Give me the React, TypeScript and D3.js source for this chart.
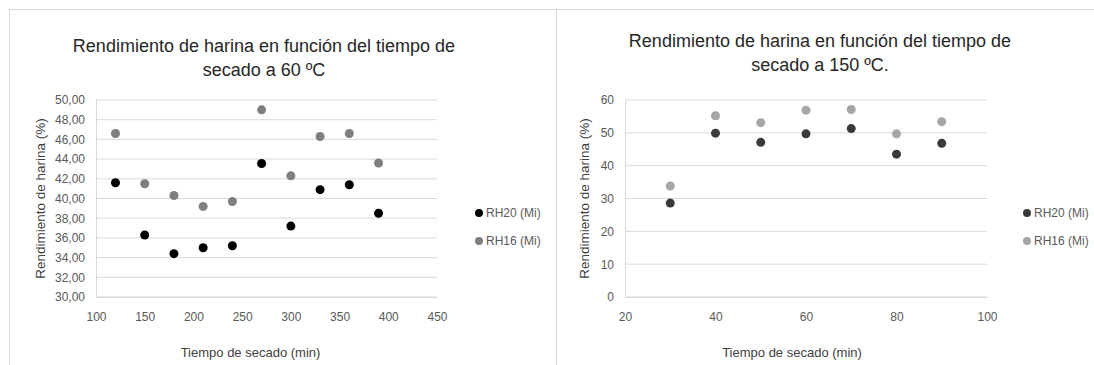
import React, { useEffect, useRef } from 'react';
import * as d3 from 'd3';

// chart 1: secado a 60 ºC
const tiempo60 = [120, 150, 180, 210, 240, 270, 300, 330, 360, 390];
const rh20_60 = [41.6, 36.3, 34.4, 35.0, 35.2, 43.55, 37.2, 40.9, 41.4, 38.5];
const rh16_60 = [46.6, 41.5, 40.3, 39.2, 39.7, 49.0, 42.3, 46.3, 46.6, 43.6];
const xTicks60 = [100, 150, 200, 250, 300, 350, 400, 450];
const yTicks60 = [30, 32, 34, 36, 38, 40, 42, 44, 46, 48, 50];

// chart 2: secado a 150 ºC
const tiempo150 = [30, 40, 50, 60, 70, 80, 90];
const rh20_150 = [28.6, 49.9, 47.1, 49.7, 51.3, 43.5, 46.8];
const rh16_150 = [33.8, 55.2, 53.1, 56.9, 57.1, 49.7, 53.4];
const xTicks150 = [20, 40, 60, 80, 100];
const yTicks150 = [0, 10, 20, 30, 40, 50, 60];

const seriesNames = ['RH20 (Mi)', 'RH16 (Mi)'];

const FONT = 'Liberation Sans, Arial, sans-serif';

function drawChart(svg, opts) {
    const g = svg.append('g');

    let xScale = d3.scaleLinear().domain(opts.xDomain).range(opts.xRange);
    let yScale = d3.scaleLinear().domain(opts.yDomain).range(opts.yRange);

    // grid lines
    g.append('g')
        .selectAll('line')
        .data(opts.yTicks)
        .join('line')
        .attr('x1', opts.xRange[0])
        .attr('x2', opts.xRange[1])
        .attr('y1', d => yScale(d))
        .attr('y2', d => yScale(d))
        .attr('stroke', '#d9d9d9')
        .attr('stroke-width', 1);

    // axes
    let yAxis = d3.axisLeft(yScale).tickValues(opts.yTicks).tickFormat(opts.yFormat).tickSize(0).tickPadding(11);
    let xAxis = d3.axisBottom(xScale).tickValues(opts.xTicks).tickFormat(d3.format('d')).tickSize(0).tickPadding(15);

    let ya = g.append('g').attr('transform', 'translate(' + opts.xRange[0] + ',0)').call(yAxis);
    ya.select('.domain').attr('stroke', '#d9d9d9');
    let xa = g.append('g').attr('transform', 'translate(0,' + opts.yRange[0] + ')').call(xAxis);
    xa.select('.domain').attr('stroke', '#d9d9d9');
    g.selectAll('.tick text')
        .attr('font-family', FONT)
        .attr('font-size', 12)
        .attr('fill', '#595959');

    // points
    const series = [
        { name: seriesNames[0], values: opts.s1, color: opts.colors[0] },
        { name: seriesNames[1], values: opts.s2, color: opts.colors[1] },
    ];
    series.forEach(s => {
        g.append('g')
            .selectAll('circle')
            .data(s.values)
            .join('circle')
            .attr('cx', (d, i) => xScale(opts.x[i]))
            .attr('cy', d => yScale(d))
            .attr('r', 4.5)
            .attr('fill', s.color);
    });

    // titles
    let title = g.append('text')
        .attr('text-anchor', 'middle')
        .attr('font-family', FONT)
        .attr('font-size', 18)
        .attr('fill', '#262626');
    opts.title.forEach((t, i) => {
        title.append('tspan')
            .attr('x', opts.titleX)
            .attr('y', opts.titleY + i * 24)
            .text(t);
    });

    g.append('text')
        .attr('text-anchor', 'middle')
        .attr('font-family', FONT)
        .attr('font-size', 13.5)
        .attr('fill', '#404040')
        .attr('transform', 'translate(' + opts.yTitleX + ',' + (opts.yRange[0] + opts.yRange[1]) / 2 + ') rotate(-90)')
        .text('Rendimiento de harina (%)');

    g.append('text')
        .attr('text-anchor', 'middle')
        .attr('font-family', FONT)
        .attr('font-size', 13)
        .attr('fill', '#404040')
        .attr('x', (opts.xRange[0] + opts.xRange[1]) / 2 + opts.xTitleShift)
        .attr('y', 357)
        .text('Tiempo de secado (min)');

    // legend
    series.forEach((s, i) => {
        let y = 213 + i * 28;
        g.append('circle')
            .attr('cx', opts.legendX)
            .attr('cy', y)
            .attr('r', 4)
            .attr('fill', s.color);
        g.append('text')
            .attr('x', opts.legendX + 7)
            .attr('y', y + 4)
            .attr('font-family', FONT)
            .attr('font-size', 12)
            .attr('fill', '#595959')
            .text(s.name);
    });
}

export default function App() {
    const ref = useRef(null);

    useEffect(() => {
        let svg = d3.select(ref.current);
        svg.selectAll('*').remove();

        // chart frames
        svg.append('line').attr('x1', 9).attr('x2', 1094).attr('y1', 9.5).attr('y2', 9.5).attr('stroke', '#d9d9d9');
        svg.append('line').attr('x1', 9.5).attr('x2', 9.5).attr('y1', 9).attr('y2', 365).attr('stroke', '#d9d9d9');
        svg.append('line').attr('x1', 556.5).attr('x2', 556.5).attr('y1', 9).attr('y2', 365).attr('stroke', '#d9d9d9');

        drawChart(svg, {
            x: tiempo60, s1: rh20_60, s2: rh16_60,
            xDomain: [100, 450], xRange: [96, 437],
            yDomain: [30, 50], yRange: [297, 100],
            xTicks: xTicks60, yTicks: yTicks60,
            yFormat: d => d3.format('.2f')(d).replace('.', ','),
            colors: ['#000000', '#7f7f7f'],
            title: ['Rendimiento de harina en función del tiempo de', 'secado a 60 ºC'],
            titleX: 264, titleY: 52,
            yTitleX: 45, xTitleShift: -16,
            legendX: 479,
        });

        drawChart(svg, {
            x: tiempo150, s1: rh20_150, s2: rh16_150,
            xDomain: [20, 100], xRange: [625, 987],
            yDomain: [0, 60], yRange: [297, 100],
            xTicks: xTicks150, yTicks: yTicks150,
            yFormat: d3.format('d'),
            colors: ['#3a3a3a', '#a6a6a6'],
            title: ['Rendimiento de harina en función del tiempo de', 'secado a 150 ºC.'],
            titleX: 820, titleY: 47,
            yTitleX: 589, xTitleShift: -14,
            legendX: 1027,
        });
    }, []);

    return (
        <svg ref={ref} width={1094} height={365}
            style={{ position: 'absolute', left: 0, top: 0, background: '#fff' }} />
    );
}
